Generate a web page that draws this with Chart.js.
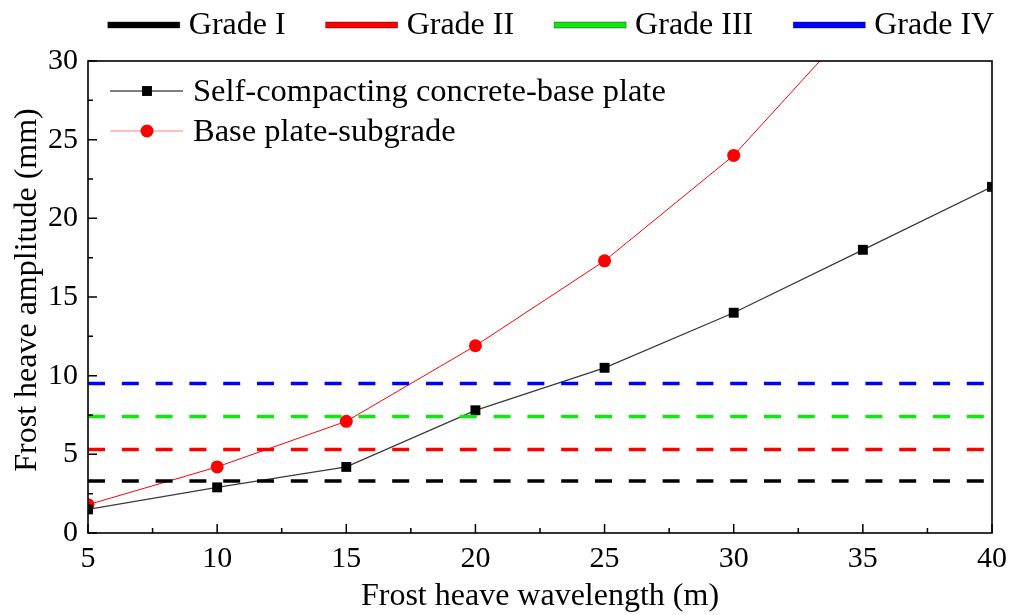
<!DOCTYPE html>
<html>
<head>
<meta charset="utf-8">
<title>Frost heave amplitude vs wavelength</title>
<script src="https://cdn.jsdelivr.net/npm/chart.js@4.4.0/dist/chart.umd.min.js"></script>
<style>
  html, body { margin: 0; padding: 0; background: #fff; }
  #wrap { width: 1020px; height: 615px; }
</style>
</head>
<body>
<div id="wrap"><canvas id="heaveChart"></canvas></div>
<script>
// wavelength (m) and amplitude (mm) of the two interfaces
const wavelengths = [5, 10, 15, 20, 25, 30, 35, 40];
const scbpAmplitude = [1.5, 2.9, 4.2, 7.8, 10.5, 14, 18, 22];
const bpsAmplitude = [1.8, 4.2, 7.1, 11.9, 17.3, 24, 33, 43];

// damage grade limits (mm)
const gradeNames = ['Grade I', 'Grade II', 'Grade III', 'Grade IV'];
const gradeLimits = [3.3, 5.3, 7.4, 9.5];
const gradeColors = ['#000000', '#ff0000', '#12e612', '#0000ff'];

const xRange = [5, 40];
const yRange = [0, 30];
const tickStep = 5;
const yTitle = 'Frost heave amplitude (mm)';

const FONT = '"Liberation Serif", "Times New Roman", serif';

const gradeSets = gradeLimits.map((lim, i) => ({
  label: gradeNames[i],
  data: xRange.map(x => ({ x: x, y: lim })),
  borderColor: gradeColors[i],
  borderWidth: 3.5,
  borderDash: [17, 16.8],
  pointRadius: 0,
  fill: false,
  clip: 0
}));

const seriesSets = [
  {
    label: 'Self-compacting concrete-base plate',
    data: wavelengths.map((x, i) => ({ x: x, y: scbpAmplitude[i] })),
    borderColor: '#3a3a3a',
    borderWidth: 1.3,
    pointStyle: 'rect',
    pointRadius: 7,
    pointBackgroundColor: '#000',
    pointBorderColor: '#000',
    pointBorderWidth: 0,
    fill: false,
    clip: 0
  },
  {
    label: 'Base plate-subgrade',
    data: wavelengths.map((x, i) => ({ x: x, y: bpsAmplitude[i] })),
    borderColor: '#ff0000',
    borderWidth: 1,
    pointStyle: 'circle',
    pointRadius: 6.5,
    pointBackgroundColor: '#ff0000',
    pointBorderColor: '#ff0000',
    pointBorderWidth: 0,
    fill: false,
    clip: 0
  }
];

// frame, inward ticks, y title and both legends
const decorations = {
  id: 'decorations',
  afterDraw(chart) {
    const ctx = chart.ctx;
    const a = chart.chartArea;
    const xs = chart.scales.x, ys = chart.scales.y;
    ctx.save();

    // inward ticks on the left and bottom axes
    ctx.strokeStyle = '#000';
    ctx.lineWidth = 1.5;
    ctx.beginPath();
    for (let v = yRange[0]; v <= yRange[1]; v += tickStep / 2) {
      const y = ys.getPixelForValue(v);
      const len = (v % tickStep === 0) ? 9 : 5;
      ctx.moveTo(a.left, y); ctx.lineTo(a.left + len, y);
    }
    for (let v = xRange[0]; v <= xRange[1]; v += tickStep / 2) {
      const x = xs.getPixelForValue(v);
      const len = (v % tickStep === 0) ? 9 : 5;
      ctx.moveTo(x, a.bottom); ctx.lineTo(x, a.bottom - len);
    }
    ctx.stroke();

    // plot frame
    ctx.lineWidth = 1.6;
    ctx.strokeRect(a.left, a.top, a.right - a.left, a.bottom - a.top);

    // y axis title
    ctx.font = '32px ' + FONT;
    ctx.fillStyle = '#000';
    ctx.textAlign = 'center';
    ctx.textBaseline = 'middle';
    ctx.save();
    ctx.translate(28, (a.top + a.bottom) / 2 - 7);
    ctx.rotate(-Math.PI / 2);
    ctx.fillText(yTitle, 0, 0);
    ctx.restore();

    // series legend inside the plot
    ctx.font = '32.5px ' + FONT;
    ctx.textAlign = 'left';
    seriesSets.forEach((ds, i) => {
      const y = a.top + 30 + i * 40;
      const x0 = a.left + 22;
      ctx.strokeStyle = i === 0 ? '#000' : '#ff8080';
      ctx.lineWidth = 1;
      ctx.beginPath();
      ctx.moveTo(x0, y); ctx.lineTo(x0 + 73, y);
      ctx.stroke();
      ctx.fillStyle = ds.pointBackgroundColor;
      ctx.strokeStyle = ds.pointBorderColor;
      Chart.helpers.drawPoint(ctx, {
        pointStyle: ds.pointStyle, radius: ds.pointRadius, rotation: 0, borderWidth: 0
      }, x0 + 37, y);
      ctx.fillStyle = '#000';
      ctx.fillText(ds.label, x0 + 83, y + 1);
    });

    // grade legend above the plot
    ctx.font = '32px ' + FONT;
    const lineLen = 72, gapText = 9, gapItem = 40;
    const widths = gradeNames.map(n => lineLen + gapText + ctx.measureText(n).width);
    const total = widths.reduce((s, w) => s + w, 0) + gapItem * (widths.length - 1);
    let x = 551 - total / 2;
    const ly = 25;
    gradeNames.forEach((n, i) => {
      ctx.fillStyle = gradeColors[i];
      ctx.fillRect(x, ly - 3, lineLen, 6);
      ctx.strokeStyle = 'rgba(0,0,0,0.45)';
      ctx.lineWidth = 0.8;
      ctx.strokeRect(x, ly - 3, lineLen, 6);
      ctx.fillStyle = '#000';
      ctx.fillText(n, x + lineLen + gapText, ly + 1);
      x += widths[i] + gapItem;
    });

    ctx.restore();
  }
};

new Chart(document.getElementById('heaveChart'), {
  type: 'line',
  data: { datasets: gradeSets.concat(seriesSets) },
  options: {
    responsive: true,
    maintainAspectRatio: false,
    animation: false,
    layout: { padding: { top: 61, right: 28, bottom: 0, left: 0 } },
    plugins: { legend: { display: false }, tooltip: { enabled: false } },
    elements: { line: { tension: 0 } },
    scales: {
      x: {
        type: 'linear',
        min: xRange[0],
        max: xRange[1],
        afterFit: s => { s.height = 82; },
        grid: { display: false, drawTicks: false },
        border: { display: false },
        ticks: { stepSize: tickStep, padding: 8, color: '#000', font: { family: FONT, size: 30 } },
        title: {
          display: true,
          text: 'Frost heave wavelength (m)',
          color: '#000',
          font: { family: FONT, size: 32, lineHeight: 1 },
          padding: { top: 0, bottom: 2 }
        }
      },
      y: {
        min: yRange[0],
        max: yRange[1],
        afterFit: s => { s.width = 88; },
        grid: { display: false, drawTicks: false },
        border: { display: false },
        ticks: { stepSize: tickStep, padding: 10, color: '#000', font: { family: FONT, size: 30 } }
      }
    }
  },
  plugins: [decorations]
});
</script>
</body>
</html>
